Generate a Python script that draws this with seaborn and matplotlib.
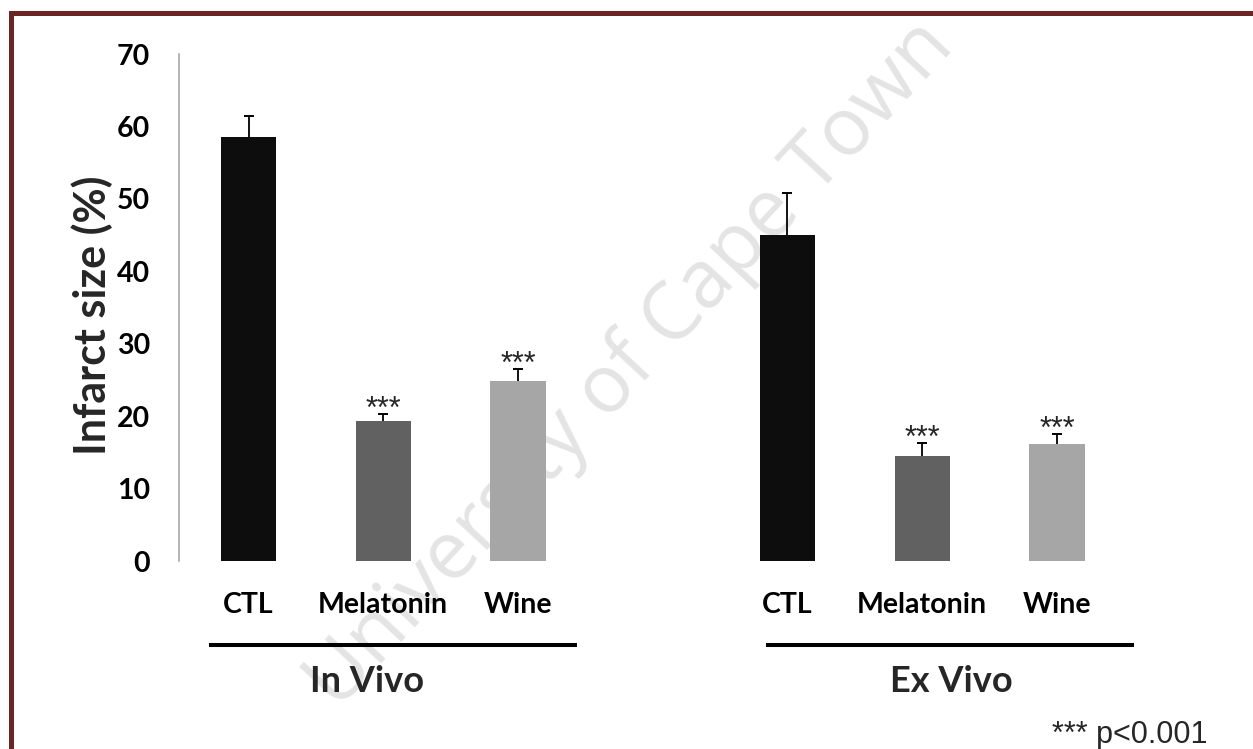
import numpy as np
import pandas as pd
import matplotlib
matplotlib.use("Agg")
import matplotlib.pyplot as plt
import matplotlib.transforms as mtransforms
from matplotlib.patches import Rectangle
import seaborn as sns

# ---- data ----
treatments = ["CTL", "Melatonin", "Wine"]
groups = ["In Vivo", "Ex Vivo"]
in_vivo_mean = [58.5, 19.3, 24.85]
in_vivo_sem = [3.0, 0.95, 1.6]
ex_vivo_mean = [45.0, 14.45, 16.15]
ex_vivo_sem = [5.8, 1.8, 1.35]
significant = [False, True, True]          # *** p<0.001 vs CTL
y_ticks = [0, 10, 20, 30, 40, 50, 60, 70]
bar_colors = {"CTL": "#0d0d0d", "Melatonin": "#616161", "Wine": "#a6a6a6"}

sns.set_style("white")
plt.rcParams["font.family"] = ["Lato", "DejaVu Sans"]

df = pd.DataFrame({
    "group": np.repeat(groups, len(treatments)),
    "treatment": treatments * len(groups),
    "mean": in_vivo_mean + ex_vivo_mean,
    "sem": in_vivo_sem + ex_vivo_sem,
    "sig": significant * len(groups),
})
# one empty slot separates the two groups
df["slot"] = [0, 1, 2, 4, 5, 6]

fig = plt.figure(figsize=(12.53, 7.49), dpi=100)
ax = fig.add_axes([0.1429, 0.2510, 0.7561, 0.6769])
ax.set_facecolor("none")

sns.barplot(data=df, x="slot", y="mean", hue="treatment", palette=bar_colors,
            native_scale=True, dodge=False, width=0.41, saturation=1,
            errorbar=None, legend=False, linewidth=0, ax=ax, zorder=2)

# upper-only SEM bars
eb = ax.errorbar(df["slot"], df["mean"], yerr=[np.zeros(len(df)), df["sem"]],
                 fmt="none", ecolor="black", elinewidth=1.3, capsize=3.5,
                 capthick=1.4, zorder=3)
eb[1][0].set_visible(False)

for x, m, s, sig in zip(df["slot"], df["mean"], df["sem"], df["sig"]):
    if sig:
        ax.annotate("***", (x, m + s), xytext=(0, -2.7), textcoords="offset points",
                    ha="center", va="baseline", fontsize=22,
                    family=["Liberation Sans", "DejaVu Sans"], zorder=4)

# axes styling
ax.set_xlim(-0.516, 6.516)
ax.set_ylim(0, 70)
ax.set_yticks(y_ticks)
ax.set_yticklabels([str(t) for t in y_ticks], fontsize=20.5, fontweight="bold")
ax.set_xticks(df["slot"])
ax.set_xticklabels(df["treatment"], fontsize=20.5, fontweight="bold")
ax.set_xlabel("")
for side in ["top", "right", "bottom"]:
    ax.spines[side].set_visible(False)
ax.spines["left"].set_color("#a0a0a0")
ax.spines["left"].set_linewidth(1.1)
ax.tick_params(axis="y", direction="out", length=5.8, width=1.1,
               color="#a0a0a0", pad=15, labelcolor="black")
ax.tick_params(axis="x", length=0, pad=22, labelcolor="black")
ax.set_ylabel("Infarct size (%)", fontsize=31, fontweight="bold", va="center")
ax.yaxis.set_label_coords(-0.0918, 0.485)

# group underlines and names
trans = mtransforms.blended_transform_factory(ax.transData, fig.transFigure)
group_spans = [(-0.293, 2.438), (3.84, 6.57)]
group_label_x = [0.879, 5.213]
for name, (x0, x1), lx in zip(groups, group_spans, group_label_x):
    ax.plot([x0, x1], [0.1389, 0.1389], color="black", lw=2.9,
            transform=trans, clip_on=False, solid_capstyle="butt")
    ax.text(lx, 0.0761, name, transform=trans, ha="center",
            va="baseline", fontsize=26, fontweight="bold")

fig.text(0.964, 0.008, "*** p<0.001", ha="right", va="baseline", fontsize=22,
         family=["Liberation Sans", "DejaVu Sans"])

# background watermark
fig.text(0.503, 0.513, "University of Cape Town", rotation=47,
         rotation_mode="anchor", ha="center", va="center", fontsize=58,
         color="#e4e4e4", family=["Open Sans", "DejaVu Sans"], zorder=-1)

# frame
fig.add_artist(Rectangle((0.00838, -0.05), 1.1, 0.982 + 0.05, fill=False,
                         edgecolor="#6b2525", linewidth=3.6,
                         transform=fig.transFigure))

fig.savefig("out.png", dpi=100)
